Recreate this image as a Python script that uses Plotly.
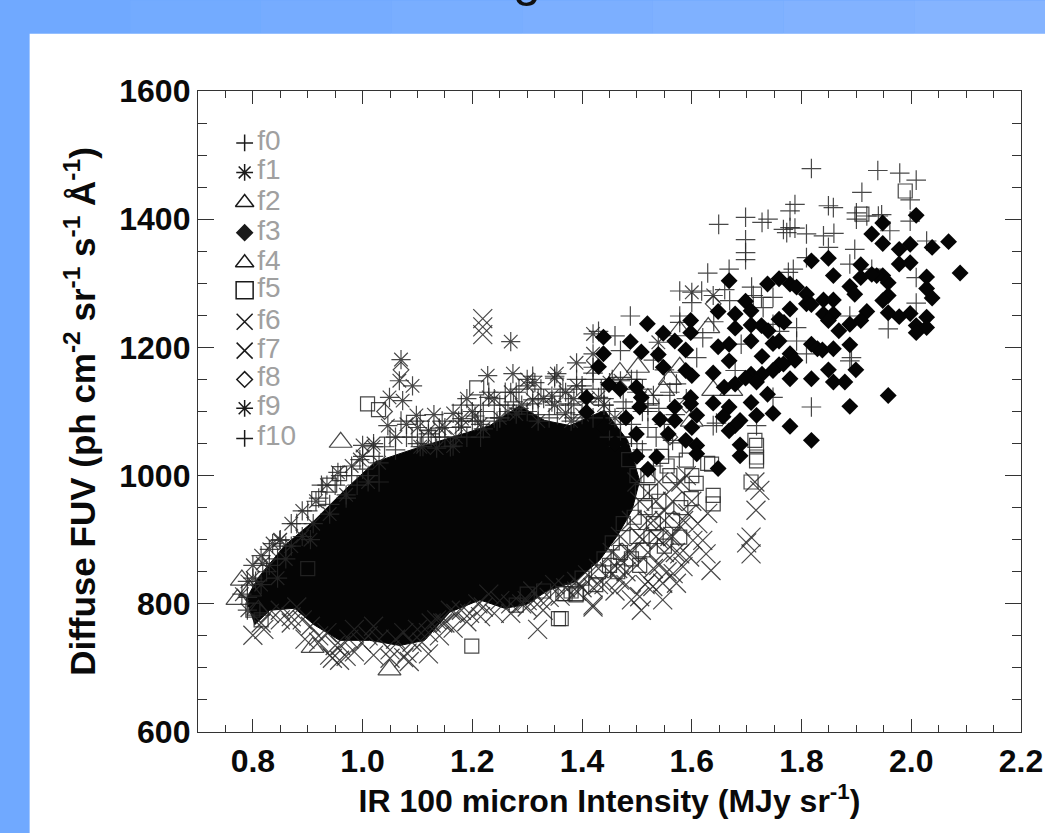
import plotly.graph_objects as go

# Saturated, fully overplotted core of the point cloud, read as an outline
core_x = [0.787,0.809,0.858,0.912,0.967,1.022,1.095,1.177,1.232,1.286,1.332,1.378,1.441,1.483,1.505,1.491,1.465,1.432,1.386,1.338,1.299,1.259,1.214,1.159,1.113,1.068,1.013,0.958,0.912,0.876,0.831,0.803]
core_y = [806,840,891,930,977,1021,1042,1063,1078,1109,1086,1078,1102,1055,992,946,907,868,834,821,799,793,806,787,743,735,743,743,767,793,790,767]

f0_x = [1.818,1.939,1.979,2.009,1.998,1.910,1.849,1.858,1.788,1.779,1.649,1.698,1.728,1.739,1.698,1.698,1.698,1.779,1.767,1.788,1.773,1.809,1.840,1.859,1.849,1.900,1.900,1.919,1.940,1.946,1.998,1.961,1.897,2.028,2.009,2.009,1.958,1.888,1.928,1.809,1.785,1.776,1.629,1.668,1.578,1.618,1.709,1.712,1.727,1.669,1.488,1.460,1.578,1.578,1.609,1.748,1.748,1.791,1.888,1.891,1.888,1.818,1.748,1.639,1.645,1.718,1.809,1.791,1.572,1.679,1.53,1.55,1.60,1.64,1.66,1.50,1.47,1.43,1.44,1.52,1.62,1.69,1.73,1.76]
f0_y = [1479,1476,1472,1461,1430,1442,1421,1418,1423,1413,1392,1403,1395,1400,1368,1348,1337,1387,1384,1386,1379,1377,1374,1378,1356,1400,1410,1405,1405,1407,1397,1382,1353,1366,1309,1269,1229,1330,1322,1340,1322,1317,1316,1322,1288,1288,1294,1281,1278,1273,1249,1218,1249,1239,1184,1278,1236,1231,1249,1184,1179,1107,1122,1078,1082,1078,1190,1210,1143,1164,1180,1165,1270,1240,1290,1150,1195,1225,1120,1110,1215,1205,1262,1225]

f1_x = [1.070,1.067,1.091,1.073,1.098,1.049,1.000,1.046,1.270,0.849,0.836,0.818,0.800,0.815,0.830,0.860,0.870,0.890,0.910,0.940,0.970,1.020,1.030,1.060,1.080,1.120,0.780,0.790,0.845,0.905,1.010,1.110,0.790,0.800,0.815,0.830,0.850,0.870,0.890,0.915,0.935,0.955,0.980,1.000,1.020,0.995]
f1_y = [1181,1148,1140,1117,1094,1122,1047,1078,1209,899,894,863,840,830,860,870,890,905,925,940,970,1050,1020,1060,1080,1070,815,790,840,900,990,1045,835,860,875,885,900,925,945,960,985,1005,1015,1030,1045,1025]

f2_x = [1.049,0.909,0.780,0.772,0.960,0.795,0.810]
f2_y = [697,732,837,807,1052,820,790]

f3_x = [2.089,2.068,2.038,2.009,1.998,1.978,1.948,1.928,1.948,1.978,1.998,2.028,2.028,2.038,1.998,1.978,1.958,2.028,2.009,2.028,2.009,1.958,1.948,1.958,1.948,1.937,1.928,1.908,1.908,1.888,1.897,1.919,1.908,1.888,1.868,1.858,1.849,1.818,1.759,1.738,1.779,1.791,1.809,1.809,1.818,1.840,1.858,1.840,1.858,1.849,1.698,1.668,1.648,1.679,1.708,1.708,1.679,1.727,1.739,1.759,1.768,1.779,1.708,1.748,1.759,1.728,1.668,1.648,1.668,1.639,1.818,1.829,1.838,1.858,1.888,1.779,1.788,1.759,1.748,1.767,1.708,1.698,1.728,1.718,1.779,1.818,1.849,1.899,1.858,1.879,1.958,1.888,1.818,1.779,1.748,1.718,1.738,1.708,1.688,1.679,1.668,1.688,1.688,1.668,1.657,1.639,1.659,1.679,1.609,1.598,1.598,1.600,1.609,1.609,1.589,1.569,1.569,1.557,1.542,1.499,1.439,1.439,1.488,1.508,1.519,1.539,1.548,1.548,1.569,1.589,1.589,1.600,1.598,1.598,1.449,1.469,1.499,1.508,1.505,1.408,1.408,1.536,1.648,1.43,1.46,1.48,1.52,1.44,1.50]
f3_y = [1316,1365,1356,1406,1361,1353,1394,1377,1362,1330,1332,1310,1292,1277,1253,1248,1254,1247,1234,1231,1223,1281,1273,1301,1312,1312,1314,1329,1309,1295,1283,1256,1242,1236,1226,1312,1339,1335,1307,1299,1299,1294,1283,1268,1267,1274,1274,1252,1252,1242,1272,1304,1256,1252,1257,1235,1230,1234,1226,1244,1239,1260,1210,1206,1210,1186,1205,1201,1179,1160,1205,1198,1196,1198,1204,1190,1180,1173,1164,1174,1158,1152,1158,1146,1151,1151,1165,1165,1146,1146,1125,1108,1055,1077,1097,1094,1127,1114,1086,1078,1070,1048,1031,1107,1092,1113,1138,1143,1094,1122,1112,1075,1047,1034,1055,1107,1086,1065,1088,1065,1216,1190,1209,1193,1237,1189,1222,1169,1210,1196,1164,1156,1242,1223,1142,1135,1138,1122,1107,1122,1099,1029,1011,1170,1050,1090,1010,1075,1030]

f4_x = [1.548,1.639,1.672,1.630,1.578,1.502,1.469,1.578,1.52,1.56,1.60]
f4_y = [1133,1133,1133,1231,1169,1169,1161,1226,1120,1150,1085]

f5_x = [1.718,1.718,1.708,1.639,1.639,1.629,1.608,1.590,1.599,1.578,1.511,1.389,1.365,1.362,1.199,1.280,1.369,1.390,1.357,1.009,1.029,1.208,0.920,0.958,1.989,1.910,1.715,1.718,1.636,1.470,1.490,1.500,1.530,1.550,1.540,1.560,1.580,1.565,1.600,1.430,1.450,1.400,1.380,1.300,1.330,0.800,0.815,0.900,0.940,1.120,1.520,1.570,1.545,1.510,1.485,1.515,1.500,1.525,1.555,1.475,1.455,1.495,1.535,1.440,1.465,1.505,1.425]
f5_y = [1047,1023,990,969,956,1019,988,1024,964,904,884,814,816,777,734,798,816,816,777,1112,1103,1137,964,1003,1444,1408,1055,1029,1018,880,870,905,925,890,960,1000,950,930,1000,850,860,840,820,815,820,790,775,855,985,1060,1000,1040,1030,975,1025,950,1000,975,1015,925,895,935,905,870,850,860,830]

f6_x = [1.420,1.440,1.460,1.468,1.480,1.490,1.505,1.508,1.520,1.529,1.540,1.547,1.547,1.555,1.566,1.572,1.578,1.584,1.596,1.602,1.611,1.620,1.626,1.629,1.635,1.593,1.708,1.708,1.717,1.724,1.715,1.700,1.560,1.540,1.520,1.500,1.580,1.550,1.600,1.570,1.590,1.510,1.530,1.490,1.470,1.450,1.500,1.540,1.580,1.505,1.535,1.565,1.490,1.520,1.550,1.585,1.470,1.505,1.535,1.565,1.455,1.485,1.550,1.570,1.430,1.465,1.530,1.395,1.430,1.480,1.515]
f6_y = [795,830,820,837,850,806,811,790,835,827,860,832,806,850,847,832,878,858,873,899,925,899,878,941,852,941,878,904,946,977,990,895,905,900,880,860,920,945,960,985,1000,900,930,880,870,850,990,990,990,960,960,960,930,930,930,930,905,905,905,905,880,880,880,880,855,855,855,830,830,830,830]

f7_x = [0.800,0.815,0.830,0.850,0.870,0.890,0.905,0.920,0.940,0.958,0.960,0.975,0.998,1.010,1.030,1.050,1.060,1.081,1.090,1.108,1.120,1.135,1.146,1.160,1.180,1.195,1.210,1.230,1.250,1.270,1.290,1.310,1.319,1.329,1.350,1.370,1.390,1.410,1.420,1.219,1.219,1.219,0.880,0.935,0.985,1.020,1.075,1.100,1.170,1.220,1.300,1.340,1.400,0.820,0.850,0.870,0.895,0.920,0.950,0.985,1.020,1.050,1.085,1.120,1.140,1.165,1.190,1.215,1.240,1.270,1.300,1.325,1.360,1.390,1.420,0.945,0.970,1.075,1.125,1.150]
f7_y = [751,770,785,790,780,775,765,750,720,712,735,745,739,750,745,728,745,723,740,740,755,775,770,790,790,785,800,815,805,800,800,820,760,790,830,825,835,845,798,1245,1232,1220,795,755,760,765,755,760,785,795,805,810,825,760,775,770,745,740,735,725,720,715,710,722,750,762,772,780,785,785,795,805,812,820,825,715,718,716,770,770]

f8_x = [1.070,1.639,1.040,1.560,1.590]
f8_y = [1165,1268,1100,1060,1110]

f9_x = [1.181,1.200,1.228,1.240,1.250,1.270,1.274,1.290,1.300,1.314,1.330,1.354,1.350,1.370,1.390,1.390,1.410,1.420,1.420,1.420,1.440,1.460,1.400,1.539,1.600,1.639,1.150,1.170,1.215,1.265,1.320,1.380,1.450,1.190,1.230,1.310,1.345,1.385,1.430,1.130,1.165,1.205,1.280,1.370,1.100,1.140,1.180,1.220,1.300,1.350,1.470,1.105,1.135,1.165]
f9_y = [1089,1100,1156,1120,1090,1130,1159,1110,1140,1145,1120,1159,1110,1130,1176,1140,1120,1221,1190,1169,1110,1090,1095,1208,1286,1281,1075,1060,1080,1100,1085,1085,1145,1120,1122,1118,1124,1120,1122,1095,1097,1093,1096,1098,1075,1074,1076,1073,1150,1152,1148,1045,1043,1046]

f10_x = [0.880,0.900,0.920,0.925,0.940,0.950,0.960,0.970,0.980,0.990,1.000,1.010,1.020,1.030,1.040,1.060,1.080,1.100,1.120,1.140,1.160,1.180,1.200,1.220,1.240,1.260,1.280,1.300,1.320,1.340,1.360,1.380,1.400,1.420,0.860,0.845,0.825,0.805,0.790,1.450,1.470,1.490,1.510,1.530,1.050,1.090,1.125,1.150,1.190,1.215,1.250,1.285,1.320,1.355,1.385,1.420,1.450,1.490,1.070,1.105,1.145,1.175,1.210,1.245,1.275,1.310,1.345,1.375,1.410,1.440,1.475,1.520,1.180,1.215,1.250,1.285,1.325,1.365,1.400,1.435,1.470,1.510,1.230,1.260,1.310,1.350,1.390,1.420,1.455,1.490,1.500,1.530,1.560,1.590,1.480,1.510,1.540,1.570,1.490,1.520,1.550,1.470,1.500,1.535,1.565]
f10_y = [925,945,965,985,955,985,1000,965,1000,985,1010,1000,1030,990,1045,1040,1060,1050,1065,1060,1045,1075,1085,1100,1090,1110,1130,1100,1120,1090,1130,1110,1140,1160,890,870,850,835,810,1100,1080,1060,1040,1015,1060,1060,1060,1060,1060,1060,1090,1105,1095,1095,1090,1090,1060,1060,1085,1085,1085,1085,1085,1085,1115,1112,1115,1112,1115,1110,1115,1100,1110,1110,1110,1135,1135,1135,1135,1135,1135,1135,1130,1130,1155,1155,1150,1150,1150,1150,1130,1125,1130,1120,1105,1100,1105,1095,1080,1075,1080,1060,1050,1060,1055]

legend_labels = ["f0","f1","f2","f3","f4","f5","f6","f7","f8","f9","f10"]
legend_symbols = ["cross-thin-open","asterisk-open","triangle-up-open","diamond","triangle-up-open","square-open","x-thin-open","x-thin-open","diamond-open","asterisk-open","cross-thin-open"]
legend_sizes = [12,14,16,12,16,17,16,16,12,14,12]
legend_x = [0.785]*11
legend_text_x = [0.808]*11
legend_y = [1519,1473,1426,1379,1332,1289,1240,1195,1150,1105,1058]

x_ticks = [0.8,1.0,1.2,1.4,1.6,1.8,2.0,2.2]
y_ticks = [600,800,1000,1200,1400,1600]

BLUE_LEFT = "#70a9ff"
INK = "rgba(40,40,40,0.85)"
FONT = "Liberation Sans, Arial, sans-serif"

series = [
    ("f0", f0_x, f0_y, "cross-thin-open", 14),
    ("f1", f1_x, f1_y, "asterisk-open", 16),
    ("f2", f2_x, f2_y, "triangle-up-open", 20),
    ("f4", f4_x, f4_y, "triangle-up-open", 20),
    ("f5", f5_x, f5_y, "square-open", 14),
    ("f6", f6_x, f6_y, "x-thin-open", 19),
    ("f7", f7_x, f7_y, "x-thin-open", 19),
    ("f8", f8_x, f8_y, "diamond-open", 12),
    ("f9", f9_x, f9_y, "asterisk-open", 16),
    ("f10", f10_x, f10_y, "cross-thin-open", 14),
    ("f3", f3_x, f3_y, "diamond", 13),
]

fig = go.Figure()
fig.add_trace(go.Scatter(x=core_x, y=core_y, fill="toself", mode="lines", fillcolor="#050505",
                         line=dict(color="#050505", width=1), showlegend=False, hoverinfo="skip"))
for name, xs, ys, sym, size in series:
    if sym == "diamond":
        marker = dict(symbol=sym, size=size, color="#050505", opacity=1, line=dict(width=0))
    else:
        marker = dict(symbol=sym, size=size, color=INK, opacity=1, line=dict(color=INK, width=1.2))
    fig.add_trace(go.Scatter(x=xs, y=ys, mode="markers", name=name, marker=marker, showlegend=False))

fig.add_trace(go.Scatter(
    x=legend_x, y=legend_y, mode="markers", showlegend=False, hoverinfo="skip",
    marker=dict(symbol=legend_symbols, size=legend_sizes, color="#1a1a1a", opacity=1, line=dict(color="#1a1a1a", width=1.5))))
fig.add_trace(go.Scatter(
    x=legend_text_x, y=legend_y, mode="text", text=legend_labels, textposition="middle right",
    textfont=dict(family=FONT, size=28, color="#a0a0a0"), showlegend=False, hoverinfo="skip"))

# Page furniture: blue slide with a white panel, drawn in plot-relative paper coordinates
PW, PH = 822.7, 641.5
L, T = 198.3, 90.5
def px(v): return (v - L) / PW
def py(v): return 1 - (v - T) / PH
shapes = [dict(type="rect", xref="paper", yref="paper", x0=px(30), x1=px(1045), y0=py(833), y1=py(33),
               fillcolor="white", line=dict(width=0), layer="below")]
band_cols = ["#70a9ff","#73abff","#76acff","#79aeff","#7cafff","#7fb1ff","#82b2ff","#85b4ff"]
for i, col in enumerate(band_cols):
    shapes.append(dict(type="rect", xref="paper", yref="paper", x0=px(i*1045/8), x1=px((i+1)*1045/8),
                       y0=py(33), y1=py(0), fillcolor=col, line=dict(width=0), layer="below"))

axis_common = dict(showline=True, linecolor="#333333", linewidth=1.3, mirror="ticks", ticks="inside",
                   tickcolor="#333333", tickwidth=1.1, showgrid=False, zeroline=False)

fig.update_layout(
    width=1045, height=833, autosize=False, paper_bgcolor=BLUE_LEFT, plot_bgcolor="rgba(0,0,0,0)",
    margin=dict(l=L, r=1045 - L - PW, t=T, b=833 - T - PH, autoexpand=False),
    showlegend=False, shapes=shapes,
    xaxis=dict(range=[0.7, 2.2], tickvals=x_ticks, ticktext=[f"{v:.1f}" for v in x_ticks], ticklen=13,
               tickfont=dict(family=FONT, size=32, color="#0a0a0a", weight="bold"),
               minor=dict(dtick=0.05, tick0=0.7, ticks="inside", ticklen=7, tickcolor="#333333", tickwidth=1.1, showgrid=False),
               title=dict(text="IR 100 micron Intensity (MJy sr<sup>-1</sup>)", standoff=10,
                          font=dict(family=FONT, size=32, color="#0a0a0a", weight="bold")), **axis_common),
    yaxis=dict(range=[600, 1600], tickvals=y_ticks, ticklen=16,
               tickfont=dict(family=FONT, size=32, color="#0a0a0a", weight="bold"),
               minor=dict(dtick=50, tick0=600, ticks="inside", ticklen=9, tickcolor="#333333", tickwidth=1.1, showgrid=False),
               title=dict(text="Diffuse FUV (ph cm<sup>-2</sup> sr<sup>-1</sup> s<sup>-1</sup> Å<sup>-1</sup>)", standoff=13,
                          font=dict(family=FONT, size=35, color="#0a0a0a", weight="bold")), **axis_common),
    annotations=[dict(text="g", xref="paper", yref="paper", x=px(527), y=py(-52), yanchor="top",
                      showarrow=False, font=dict(family=FONT, size=50, color="#111111"))],
)

fig.write_html("out.html", config=dict(displayModeBar=False),
               post_script="document.body.style.margin='0';document.documentElement.style.overflow='hidden';")
